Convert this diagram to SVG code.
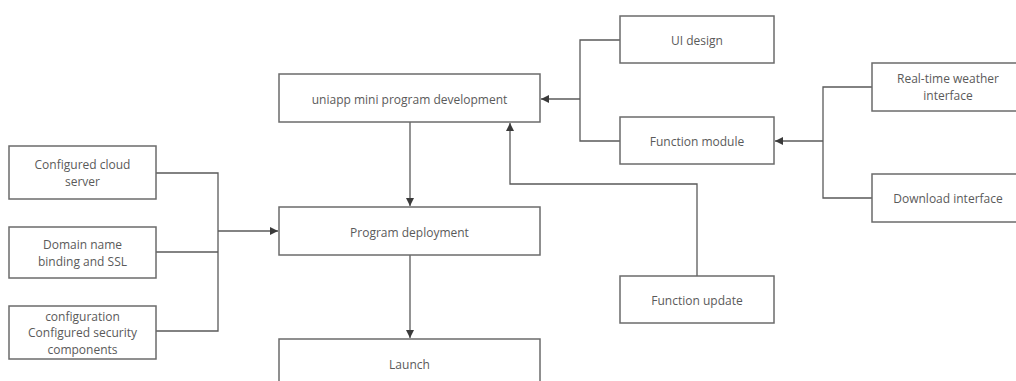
<svg xmlns="http://www.w3.org/2000/svg" width="1016" height="381" viewBox="0 0 1016 381">
<style>
.box{fill:#fff;stroke:#6b6b6b;stroke-width:1.5}
.t{font-family:"Open Sans","Noto Sans",sans-serif;font-size:12px;fill:#5a5a5a;text-anchor:middle;dominant-baseline:central}
.c{fill:none;stroke:#5a5a5a;stroke-width:1.3}
</style>
<defs>
<marker id="ah" viewBox="0 0 10 10" refX="10" refY="5" markerWidth="8" markerHeight="8" markerUnits="userSpaceOnUse" orient="auto">
<path d="M0,0 L10,5 L0,10 z" fill="#3a3a3a"/>
</marker>
</defs>
<rect width="1016" height="381" fill="#fff"/>
<g id="connectors">
<path class="c" d="M156,173 H218 V331 H156"/>
<path class="c" d="M156,252 H218"/>
<path class="c" d="M218,231 H278" marker-end="url(#ah)"/>
<path class="c" d="M410,122 V206" marker-end="url(#ah)"/>
<path class="c" d="M410,255 V338" marker-end="url(#ah)"/>
<path class="c" d="M620,40 H580 V141 H620"/>
<path class="c" d="M580,99 H541" marker-end="url(#ah)"/>
<path class="c" d="M872,87 H823 V198 H872"/>
<path class="c" d="M823,141 H775" marker-end="url(#ah)"/>
<path class="c" d="M697,276 V184 H510 V123" marker-end="url(#ah)"/>
</g>
<g id="cloud"><rect class="box" x="9" y="146" width="147" height="53"/><text class="t" x="82.5" y="164.5">Configured cloud</text><text class="t" x="82.5" y="181">server</text></g>
<g id="domain"><rect class="box" x="9" y="227" width="147" height="51"/><text class="t" x="82.5" y="244.5">Domain name</text><text class="t" x="82.5" y="261">binding and SSL</text></g>
<g id="security"><rect class="box" x="9" y="306" width="147" height="53"/><text class="t" x="82.5" y="316">configuration</text><text class="t" x="82.5" y="332.5">Configured security</text><text class="t" x="82.5" y="349">components</text></g>
<g id="uniapp"><rect class="box" x="279" y="74" width="261" height="48"/><text class="t" x="409.5" y="99">uniapp mini program development</text></g>
<g id="deploy"><rect class="box" x="279" y="207" width="261" height="48"/><text class="t" x="409.5" y="232">Program deployment</text></g>
<g id="launch"><rect class="box" x="279" y="339" width="261" height="48"/><text class="t" x="409.5" y="364">Launch</text></g>
<g id="ui"><rect class="box" x="620" y="16" width="154" height="47"/><text class="t" x="697" y="40">UI design</text></g>
<g id="module"><rect class="box" x="620" y="117" width="154" height="47"/><text class="t" x="697" y="141">Function module</text></g>
<g id="update"><rect class="box" x="620" y="276" width="154" height="47"/><text class="t" x="697" y="300">Function update</text></g>
<g id="weather"><rect class="box" x="872" y="63" width="150" height="48"/><text class="t" x="948" y="78.5">Real-time weather</text><text class="t" x="948" y="95">interface</text></g>
<g id="download"><rect class="box" x="872" y="174" width="150" height="48"/><text class="t" x="948" y="198">Download interface</text></g>
</svg>
